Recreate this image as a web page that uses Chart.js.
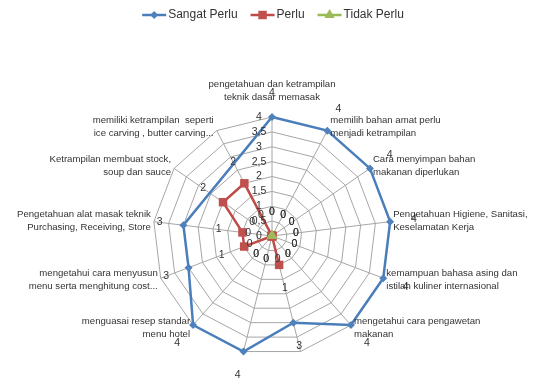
<!DOCTYPE html>
<html>
<head>
<meta charset="utf-8">
<script src="https://cdn.jsdelivr.net/npm/chart.js@4.4.0/dist/chart.umd.min.js"></script>
<style>
  html, body { margin: 0; padding: 0; background: #fff; }
  #wrap { width: 534px; height: 381px; }
</style>
</head>
<body>
<div id="wrap"><canvas id="radar" width="534" height="381"></canvas></div>
<script>
// kategori (2 baris per label), dua kategori bawah tanpa label seperti aslinya
const KATEGORI = [
  ["pengetahuan dan ketrampilan", "teknik dasar memasak"],
  ["memilih bahan amat perlu", "menjadi ketrampilan"],
  ["Cara menyimpan bahan", "makanan diperlukan"],
  ["Pengetahuan Higiene, Sanitasi,", "Keselamatan Kerja"],
  ["kemampuan bahasa asing dan", "istilah kuliner internasional"],
  ["mengetahui cara pengawetan", "makanan"],
  [""],
  [""],
  ["menguasai resep standar", "menu hotel"],
  ["mengetahui cara menyusun", "menu serta menghitung cost..."],
  ["Pengetahuan alat masak teknik", "Purchasing, Receiving, Store"],
  ["Ketrampilan membuat stock,", "soup dan sauce"],
  ["memiliki ketrampilan  seperti", "ice carving , butter carving..."],
];

const SANGAT_PERLU = [4, 4, 4, 4, 4, 4, 3, 4, 4, 3, 3, null, null];
const PERLU = [0, 0, 0, 0, 0, 0, 1, 0, 0, 1, 1, 2, 2];
const TIDAK_PERLU = [0, 0, 0, 0, 0, 0, 0, 0, 0, 0, 0, 0, 0];

const SKALA_MIN = 0;
const SKALA_MAX = 4;
const SKALA_STEP = 0.5;

const FONT = "'Liberation Sans', Arial, sans-serif";
const TEKS = "#333333";

// gambar marker sendiri (legend)
function marker(ctx, style, x, y, r, color) {
  ctx.save();
  ctx.fillStyle = color;
  ctx.beginPath();
  if (style === "rectRot") {
    ctx.moveTo(x, y - r);
    ctx.lineTo(x + r, y);
    ctx.lineTo(x, y + r);
    ctx.lineTo(x - r, y);
  } else if (style === "rect") {
    const s = r * Math.SQRT1_2;
    ctx.rect(x - s, y - s, 2 * s, 2 * s);
  } else {
    ctx.moveTo(x, y - r);
    ctx.lineTo(x + r * 0.866, y + r * 0.5);
    ctx.lineTo(x - r * 0.866, y + r * 0.5);
  }
  ctx.closePath();
  ctx.fill();
  ctx.restore();
}

const labelPlugin = {
  id: "labelExcel",
  afterDraw(chart) {
    const ctx = chart.ctx;
    const scale = chart.scales.r;
    const n = KATEGORI.length;
    ctx.save();
    ctx.fillStyle = TEKS;

    // label kategori di luar cincin terluar
    ctx.font = "9.6px " + FONT;
    ctx.textBaseline = "middle";
    for (let i = 0; i < n; i++) {
      const lines = KATEGORI[i];
      const p = scale.getPointPosition(i, scale.drawingArea);
      const a = scale.getIndexAngle(i);
      const sin = Math.sin(a), cos = Math.cos(a);
      const lh = 13;
      if (Math.abs(sin) < 0.1 && cos > 0) {
        ctx.textAlign = "center";
        lines.forEach((t, k) => ctx.fillText(t, p.x, p.y - 20 - (lines.length - 1 - k) * lh));
        continue;
      }
      ctx.textAlign = sin > 0 ? "left" : "right";
      const x = p.x + (sin > 0 ? 3 : -3);
      const cy = p.y - 4 * cos;
      const y0 = cy - (lines.length - 1) * lh / 2;
      lines.forEach((t, k) => ctx.fillText(t, x, y0 + k * lh));
    }

    // label sumbu (koma desimal)
    ctx.font = "10.5px " + FONT;
    ctx.textAlign = "center";
    scale.ticks.forEach((tk) => {
      const d = scale.getDistanceFromCenterForValue(tk.value);
      ctx.fillText(String(tk.value).replace(".", ","), scale.xCenter - 13, scale.yCenter - d);
    });

    // label data
    chart.data.datasets.forEach((ds) => {
      ds.data.forEach((v, i) => {
        if (v === null) return;
        const d = scale.getDistanceFromCenterForValue(v);
        const p = scale.getPointPosition(i, d + 24);
        ctx.fillText(String(v), p.x, p.y);
      });
    });

    // legend ala Excel: garis + marker
    ctx.font = "12px " + FONT;
    ctx.textAlign = "left";
    const lineLen = 24, gap = 2, space = 13;
    const items = chart.data.datasets.map((ds) => ({
      ds, w: lineLen + gap + ctx.measureText(ds.label).width,
    }));
    const total = items.reduce((s, it) => s + it.w, 0) + space * (items.length - 1);
    let x = 273 - total / 2;
    const y = 15;
    items.forEach((it) => {
      ctx.strokeStyle = it.ds.borderColor;
      ctx.lineWidth = 2.5;
      ctx.beginPath();
      ctx.moveTo(x, y);
      ctx.lineTo(x + lineLen, y);
      ctx.stroke();
      marker(ctx, it.ds.pointStyle, x + lineLen / 2, y, it.ds.pointRadius, it.ds.pointBackgroundColor);
      ctx.fillStyle = TEKS;
      ctx.fillText(it.ds.label, x + lineLen + gap, y);
      x += it.w + space;
    });
    ctx.restore();
  },
};

const ctx = document.getElementById("radar").getContext("2d");
new Chart(ctx, {
  type: "radar",
  data: {
    labels: KATEGORI.map((l) => l.join(" ")),
    datasets: [
      {
        label: "Sangat Perlu",
        data: SANGAT_PERLU,
        borderColor: "#4A7EBB",
        backgroundColor: "#4F81BD",
        pointBackgroundColor: "#4F81BD",
        pointBorderWidth: 0,
        pointStyle: "rectRot",
        pointRadius: 4,
        borderWidth: 2.5,
        fill: false,
        spanGaps: true,
        order: 2,
      },
      {
        label: "Perlu",
        data: PERLU,
        borderColor: "#BE4B48",
        backgroundColor: "#C0504D",
        pointBackgroundColor: "#C0504D",
        pointBorderWidth: 0,
        pointStyle: "rect",
        pointRadius: 6,
        borderWidth: 2.5,
        fill: false,
        order: 1,
      },
      {
        label: "Tidak Perlu",
        data: TIDAK_PERLU,
        borderColor: "#98B954",
        backgroundColor: "#9BBB59",
        pointBackgroundColor: "#9BBB59",
        pointBorderWidth: 0,
        pointStyle: "triangle",
        pointRadius: 6,
        borderWidth: 2.5,
        fill: false,
        order: 0,
      },
    ],
  },
  options: {
    responsive: false,
    animation: false,
    layout: { padding: { left: 153, right: 143, top: 117, bottom: 26 } },
    plugins: {
      legend: { display: false },
      tooltip: { enabled: false },
    },
    scales: {
      r: {
        min: SKALA_MIN,
        max: SKALA_MAX,
        ticks: { stepSize: SKALA_STEP, display: false },
        grid: { color: "#a6a6a6", lineWidth: 1 },
        angleLines: { color: "#a6a6a6", lineWidth: 1 },
        pointLabels: { display: false },
      },
    },
  },
  plugins: [labelPlugin],
});
</script>
</body>
</html>
